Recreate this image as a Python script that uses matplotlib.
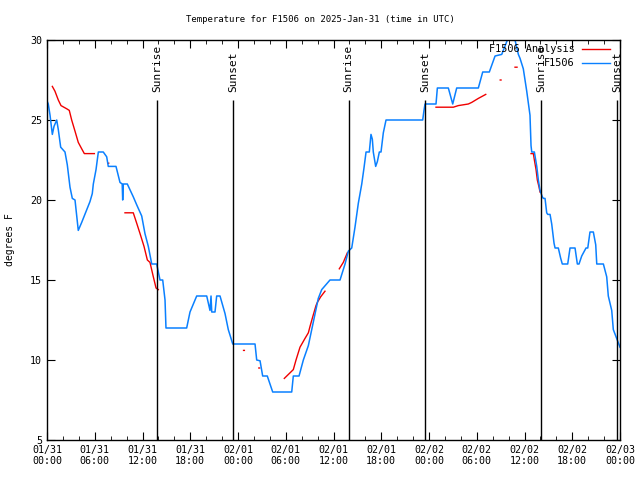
import numpy as np
import matplotlib
matplotlib.use("Agg")
import matplotlib.pyplot as plt
from matplotlib.lines import Line2D

nan = np.nan

# hours since 2025-01-31 00:00 UTC
obs_hours = [
    0.0, 0.16, 0.38, 0.67, 0.88, 1.22, 1.42, 1.72, 2.26, 2.55, 2.89, 3.18, 3.52, 3.93,
    4.36, 5.40, 5.69, 5.82, 6.16, 6.45, 7.07, 7.50, 7.70, 8.67, 9.17, 9.45, 9.51, 9.59,
    10.09, 10.84, 11.27, 11.90, 12.31, 12.73, 13.16, 13.78, 14.20, 14.54, 14.83, 14.95,
    17.55, 17.97, 18.81, 20.07, 20.48, 20.61, 20.70, 21.11, 21.32, 21.74, 22.37, 22.78,
    23.34, 26.14, 26.35, 26.77, 27.10, 27.68, 28.36, 30.75, 30.95, 31.67, 32.21, 32.84,
    33.26, 33.68, 34.09, 34.52, 35.56, 36.82, 37.45, 37.86, 38.29, 38.70, 39.12, 39.55,
    39.83, 40.09, 40.50, 40.71, 40.88, 41.00, 41.30, 41.51, 41.76, 41.97, 42.26, 42.60,
    47.21, 47.37, 47.50, 48.88, 49.05, 50.43, 50.98, 51.48, 54.20, 54.75, 55.58, 56.30,
    57.14, 57.77, 58.50, 58.81, 59.23, 59.44, 59.85, 60.28, 60.69, 60.82, 60.91, 61.24,
    61.54, 61.74, 61.95, 62.24, 62.37, 62.58, 62.79, 62.92, 63.21, 63.42, 63.71, 63.84,
    64.25, 64.55, 64.75, 65.43, 65.72, 66.35, 66.64, 66.85, 67.19, 67.73, 67.95, 68.23,
    68.65, 68.95, 69.08, 69.91, 70.33, 70.53, 70.96, 71.16, 71.50, 71.92, 72.0,
]
obs_temp = [
    26.2, 26.0, 25.3, 24.1, 24.6, 25.0, 24.4, 23.3, 23.0, 22.2, 20.8, 20.1, 20.0, 18.1,
    18.6, 19.9, 20.4, 21.0, 21.9, 23.0, 23.0, 22.7, 22.1, 22.1, 21.1, 21.0, 20.0, 21.0,
    21.0, 20.2, 19.7, 19.0, 17.9, 17.1, 16.0, 16.0, 15.0, 15.0, 13.75, 12.0,
    12.0, 13.0, 14.0, 14.0, 13.1, 14.0, 13.0, 13.0, 14.0, 14.0, 12.9, 11.9,
    11.0, 11.0, 10.0, 9.95, 9.0, 9.0, 8.0, 8.0, 9.0, 9.0, 10.0, 10.9,
    11.9, 12.9, 13.85, 14.4, 15.0, 15.0, 16.0, 16.8, 17.0, 18.3, 19.8, 21.0,
    22.0, 23.0, 23.0, 24.1, 23.8, 23.0, 22.1, 22.4, 23.0, 23.0, 24.2, 25.0,
    25.0, 25.6, 26.0, 26.0, 27.0, 27.0, 26.0, 27.0, 27.0, 28.0, 28.0, 29.0,
    29.1, 29.9, 30.6, 30.0, 29.1, 28.85, 28.2, 26.8, 25.3, 23.4, 23.0, 23.0,
    22.1, 21.25, 20.6, 20.2, 20.1, 20.1, 19.2, 19.1, 19.1, 18.5, 17.3, 17.0,
    17.0, 16.35, 16.0, 16.0, 17.0, 17.0, 16.0, 16.0, 16.5, 17.0, 17.0, 18.0,
    18.0, 17.2, 16.0, 16.0, 15.2, 14.0, 13.1, 11.9, 11.45, 10.9, 10.8,
]

ana_hours = [
    0.67, 1.0, 1.42, 1.76, 2.48, 2.80, 3.10, 3.52, 3.93, 4.36, 4.69, 5.95, nan,
    7.65, 7.75, nan,
    9.80, 10.84, 11.27, 11.69, 12.19, 12.61, 12.94, 13.36, 13.70, 13.99, nan,
    24.70, 24.80, nan,
    26.62, 26.72, nan,
    29.82, 30.95, 31.29, 31.79, 32.42, 32.84, 33.05, 33.39, 33.80, 33.97, 34.39, 34.93, nan,
    36.73, 37.23, 37.74, nan,
    48.88, 51.06, 51.68, 52.94, 53.37, 54.20, 55.13, nan,
    56.95, 57.05, nan,
    58.81, 59.06, nan,
    60.82, 61.11, 61.24, 61.45, 61.61, 61.83, 61.95,
]
ana_temp = [
    27.1, 26.8, 26.25, 25.9, 25.7, 25.6, 25.0, 24.3, 23.6, 23.2, 22.9, 22.9, nan,
    22.3, 22.3, nan,
    19.2, 19.2, 18.55, 17.9, 17.1, 16.25, 16.1, 15.2, 14.5, 14.4, nan,
    10.6, 10.6, nan,
    9.5, 9.5, nan,
    8.85, 9.4, 10.0, 10.8, 11.35, 11.7, 12.1, 12.7, 13.4, 13.6, 13.95, 14.3, nan,
    15.7, 16.1, 16.7, nan,
    25.8, 25.8, 25.9, 26.0, 26.1, 26.35, 26.6, nan,
    27.5, 27.5, nan,
    28.3, 28.3, nan,
    22.9, 22.9, 22.5, 21.9, 21.25, 20.8, 20.5,
]

sun_hours = [13.8, 23.4, 37.9, 47.5, 62.1, 71.6]
sun_labels = ["Sunrise", "Sunset", "Sunrise", "Sunset", "Sunrise", "Sunset"]

x_ticks = list(range(0, 73, 6))
x_tick_labels = [
    "01/31\n00:00", "01/31\n06:00", "01/31\n12:00", "01/31\n18:00",
    "02/01\n00:00", "02/01\n06:00", "02/01\n12:00", "02/01\n18:00",
    "02/02\n00:00", "02/02\n06:00", "02/02\n12:00", "02/02\n18:00",
    "02/03\n00:00",
]
y_ticks = [5, 10, 15, 20, 25, 30]

RED = "#f00000"
BLUE = "#0a80ff"
FS = 7.0

plt.rcParams["font.family"] = "DejaVu Sans Mono"
plt.rcParams["font.size"] = FS

fig = plt.figure(figsize=(6.4, 4.8), dpi=100)
ax = fig.add_axes([47 / 640, 40 / 480, 573 / 640, 400 / 480])

ax.plot(ana_hours, ana_temp, color=RED, lw=1.0)
ax.plot(obs_hours, obs_temp, color=BLUE, lw=1.1)

ax.vlines(sun_hours, 5, 26.25, color="black", lw=1.0)
for h, lab in zip(sun_hours, sun_labels):
    ax.text(h, 26.75, lab, rotation=90, ha="center", va="bottom", fontsize=8.0)

ax.set_xlim(0, 72)
ax.set_ylim(5, 30)
ax.set_xticks(x_ticks)
ax.set_xticklabels(x_tick_labels)
ax.set_xticks(range(0, 73, 2), minor=True)
ax.set_yticks(y_ticks)
ax.tick_params(which="both", direction="in", top=True, right=True, labelsize=FS + 0.2)
ax.tick_params(which="major", length=6)
ax.tick_params(which="minor", length=3)
for s in ax.spines.values():
    s.set_linewidth(1.0)

fig.text(10 / 640, 0.5, "degrees F", rotation=90, ha="center", va="center", fontsize=FS)
fig.text(0.5, 1 - 20 / 480, "Temperature for F1506 on 2025-Jan-31 (time in UTC)",
         ha="center", va="center", fontsize=6.5)

# legend drawn inside the top right corner, gnuplot style
for y, lab, col in [(0.9775, "F1506 Analysis", RED), (0.9425, "F1506", BLUE)]:
    ax.text(0.921, y, lab, transform=ax.transAxes, ha="right", va="center", fontsize=7.4)
    ax.add_line(Line2D([0.934, 0.983], [y, y], transform=ax.transAxes, color=col, lw=1.0))

fig.savefig("out.png", dpi=100)
